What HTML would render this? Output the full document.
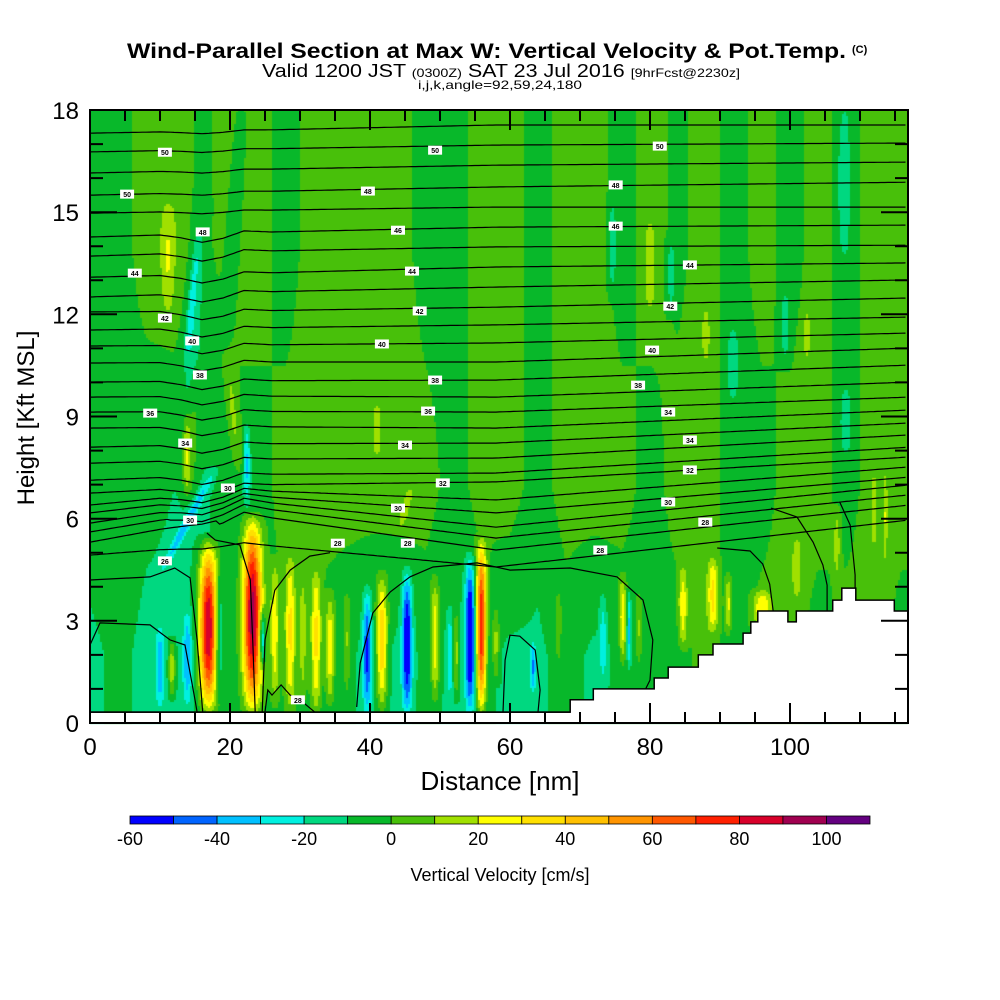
<!DOCTYPE html>
<html><head><meta charset="utf-8"><style>
html,body{margin:0;padding:0;background:#fff;width:1000px;height:1000px;overflow:hidden}
#wrap{position:relative;width:1000px;height:1000px}
canvas,svg{position:absolute;left:0;top:0}
text{font-family:"Liberation Sans",sans-serif}
</style></head><body>
<div id="wrap">
<canvas id="field" width="1000" height="1000"></canvas>
<svg id="ov" width="1000" height="1000">
<g>
<text x="127" y="58" font-size="21" font-weight="bold" textLength="719" lengthAdjust="spacingAndGlyphs">Wind-Parallel Section at Max W: Vertical Velocity &amp; Pot.Temp.</text>
<text x="852" y="53" font-size="11" font-weight="bold">(C)</text>
<text x="262" y="77" font-size="18" textLength="478" lengthAdjust="spacingAndGlyphs">Valid 1200 JST <tspan font-size="12">(0300Z)</tspan> SAT 23 Jul 2016 <tspan font-size="12">[9hrFcst@2230z]</tspan></text>
<text x="418" y="89" font-size="12" textLength="164" lengthAdjust="spacingAndGlyphs">i,j,k,angle=92,59,24,180</text>
</g>
<g id="contours"></g>
<g id="terrain"></g>
<g id="clabels"></g>
<g id="axes"></g>
<g id="cbar"></g>
<text x="500" y="790" font-size="26" text-anchor="middle">Distance [nm]</text>
<text x="0" y="0" font-size="24" text-anchor="middle" transform="translate(34,418) rotate(-90)">Height [Kft MSL]</text>
<text x="500" y="881" font-size="18" text-anchor="middle">Vertical Velocity [cm/s]</text>
</svg>
</div>
<script>
// ---------- data ----------
const xTicks = [0,20,40,60,80,100];
const yTicks = [0,3,6,9,12,15,18];
const cbLevels = [-60,-40,-20,0,20,40,60,80,100];
const binColors = ['#0000ff','#0064ff','#00c0ff','#00f0e0','#00d880','#08b82a','#48c00a','#a0e000','#ffff00','#ffe000','#ffc000','#ff9400','#ff5800','#ff2000','#d8002a','#a00050','#640080'];
const binMin = -60, binStep = 10;
// background w (cm/s) at x = 0,4,...,116 nm, for low (2 kft), mid (7 kft), top (14 kft)
const bgLow = [-12,-8,-12,-12,-12,-5,-5,-2,-3,-8,-12,-12,-8,-12,-8,-12,-12,-6,-12,-8,-5,-5,5,-5,5,5,-5,5,5,-5];
const bgMid = [-5,-5,-8,-10,-12,-5,-5,5,5,5,5,5,5,-5,5,5,-5,5,5,5,-5,5,5,-5,-5,5,5,-5,5,5];
const bgTop = [-5,-5,5,8,-3,5,5,-5,5,5,5,5,-5,-5,5,5,-5,5,5,-5,5,-3,5,-5,5,-5,5,-5,5,5];
// updraft/downdraft cells
const cellX   = [10.0,11.7,13.9,16.9,18.4,23.2,24.6,26.4,28.6,30.4,32.3,34.3,36.7,39.6,41.7,45.3,49.3,51.4,52.3,54.3,55.9,58.0,63.3,66.9,73.3,76.1,77.0,78.4,84.7,89.0,91.2,96.0,101.0,106.7,112.0,113.6,13.9,14.6,14.5,11.1,20.7,22.4,13.8,14.5,20.5,41.0,45.0,74.6,80.0,83.0,88.0,91.8,99.3,102.4,107.7,108.0];
const cellW   = [0.6,0.5,0.6,1.3,0.6,1.3,0.4,0.6,0.7,0.5,0.7,0.6,0.5,0.6,0.8,0.7,0.6,0.4,0.4,0.7,0.7,0.5,0.4,0.4,0.5,0.5,0.3,0.4,0.6,0.7,0.4,1.2,0.6,0.5,0.3,0.3,0.7,1.0,0.45,0.9,1.0,0.5,0.6,1.2,0.8,0.5,0.6,0.6,0.8,0.6,0.5,0.8,0.7,0.5,0.9,0.8];
const cellBot = [0.3,0.6,0.3,0.0,0.5,0.0,1.5,0.3,0.0,0.5,0.0,0.3,0.5,0.0,0.0,0.0,0.3,0.5,0.5,0.0,0.0,1.0,0.8,1.5,1.0,1.5,1.5,1.5,2.0,2.5,2.5,2.8,3.5,4.0,5.0,4.5,4.2,7.0,10.2,11.6,11.0,6.2,6.5,6.0,7.0,7.7,5.5,12.3,11.7,11.8,10.5,9.3,10.3,10.5,13.2,7.7];
const cellTop = [3.0,2.6,3.5,5.6,4.8,6.3,3.5,5.0,5.2,4.5,4.8,4.0,4.0,4.2,4.6,4.8,4.5,3.5,3.5,5.2,5.6,3.5,2.5,4.0,4.0,4.5,4.0,4.0,4.8,5.0,4.5,4.0,5.6,6.5,7.5,7.5,7.6,16.0,14.5,15.4,19.0,9.0,9.3,11.0,11.0,9.5,7.0,15.7,15.0,14.5,12.3,11.8,13.0,12.3,18.5,10.0];
const cellAmp = [-28,28,-28,100,-25,100,-45,30,34,20,36,32,18,-42,48,-55,34,-18,25,-60,85,22,-30,15,-18,32,-28,16,28,32,25,28,16,16,16,16,-28,-15,-12,15,-15,-28,25,14,14,14,15,-15,15,-15,14,-15,-15,14,-15,-15];
const cellTilt= [0,0,0,0,0,0,0,0,0,0,0,0,0,0,0,0,0,0,0,0,0,0,0,0,0,0,0,0,0,0,0,0,0,0,0,0,2.5,0.3,0.5,0,0.3,0,0,0,-0.5,0,1.2,0,0,0,0,0,0,0,0,0];
// potential temperature contour heights (kft) at anchor distances
const thetaAnchorX = [0,22,58,117];
const thetaZ0   = [17.32,16.77,16.15,15.50,14.97,14.27,13.71,13.09,12.51,12.07,11.54,11.07,10.57,10.01,9.57,9.13,8.66,8.10,7.63,7.13,6.75,6.40,6.17,5.87,5.61,5.31,4.93];
const thetaZ22  = [17.40,16.85,16.25,15.60,15.05,14.40,13.85,13.20,12.65,12.10,11.60,11.10,10.60,10.05,9.60,9.15,8.70,8.20,7.75,7.30,6.99,6.84,6.69,6.55,6.37,6.14,5.28];
const thetaZ58  = [17.56,16.97,16.38,15.74,15.15,14.56,13.98,13.39,12.80,12.21,11.69,11.16,10.60,10.07,9.57,9.13,8.66,8.22,7.78,7.34,7.08,6.55,6.17,5.75,5.43,5.08,4.58];
const thetaZ117 = [17.56,17.03,16.47,15.88,15.15,14.62,14.03,13.51,13.01,12.48,11.92,11.45,11.01,10.51,10.01,9.57,9.19,8.81,8.46,8.10,7.81,7.52,7.22,6.99,6.70,6.40,5.96];
const dipX = [0,10,13,16,19,22,26,117];
const dipK = [0,0,-0.1,-0.25,-0.15,0.05,0,0];
// low-level closed/terrain-bounded theta contours: [nm, kft] pairs
const lowContours = [
 [[0,2.29],[1.43,2.94],[8.57,2.88],[11.43,2.44],[13.57,2.29],[15,0.68],[15.3,0.32]],
 [[0,4.2],[8.57,4.29],[12.1,4.55],[14.3,4.26],[15.3,2.44],[16.1,0.32]],
 [[16.7,5.58],[17.9,5.37],[21.4,5.23],[22.9,4.2],[23.3,2.14],[23.6,0.32]],
 [[24.6,0.32],[25,2.44],[26.4,3.9],[28.6,4.49],[31.4,4.9],[34.3,5.0]],
 [[25.0,0.32],[25.4,0.97],[26,0.82],[27.3,1.12],[28.6,0.82],[30,0.68],[32.1,0.32]],
 [[38.1,0.47],[38.6,1.76],[40.4,3.23],[42.9,3.85],[45.7,4.29],[49,4.58],[55.3,4.7],[60,4.49],[68.6,4.55],[75.3,4.29],[79,3.61],[80.4,2.44],[80,1.26],[79.3,0.97]],
 [[59,0.32],[59.3,1.85],[60,2.58],[61.4,2.55],[63.6,2.14],[64.3,0.97],[64,0.32]],
 [[97.3,6.31],[101,6.05],[103.3,5.31],[104.7,4.64],[105.3,4.05],[105.3,3.17]],
 [[107.1,6.49],[108.6,5.81],[109.3,4.35],[109.3,3.96]],
 [[89.6,5.14],[94.3,5.05],[96.1,4.67],[97.1,4.08],[97.6,3.29]]
];
const labelX = [10.7,5.3,49.3,81.4,39.7,75.1,16.1,44,75.1,6.4,46,85.7,10.7,47.1,82.9,14.6,41.7,80.3,15.7,49.3,78.3,8.6,48.3,82.6,13.6,45,85.7,50.4,85.7,19.7,44,82.6,14.3,87.9,35.4,45.4,72.9,10.7,29.7];
const labelZ = [16.76,15.53,16.82,16.94,15.62,15.8,14.42,14.47,14.59,13.21,13.27,13.45,11.89,12.1,12.24,11.22,11.13,10.95,10.22,10.07,9.92,9.1,9.16,9.13,8.22,8.16,8.31,7.05,7.43,6.9,6.31,6.49,5.96,5.9,5.28,5.28,5.08,4.76,0.68];
const labelTxt = ['50','50','50','50','48','48','48','46','46','44','44','44','42','42','42','40','40','40','38','38','38','36','36','34','34','34','34','32','32','30','30','30','30','28','28','28','28','26','28'];
// terrain (step function): start distance nm, surface height kft
const terrX = [0,68.6,71.9,80.6,82.6,86.9,89,93.3,94.4,95.4,99.7,100.9,106.1,107.4,109.4,114.9];
const terrH = [0.32,0.68,1.0,1.32,1.64,2.0,2.32,2.64,2.97,3.29,2.97,3.29,3.61,3.96,3.61,3.29];

// ---------- scales ----------
const PX0=90, PX1=908, PY0=110, PY1=723, XMAX=116.86, ZMAX=18;
const sx = v => PX0 + v*(PX1-PX0)/XMAX;
const sy = v => PY1 - v*(PY1-PY0)/ZMAX;
const ix = p => (p-PX0)*XMAX/(PX1-PX0);
const iz = p => (PY1-p)*ZMAX/(PY1-PY0);
const NS='http://www.w3.org/2000/svg';
function lerpArr(xs, ys, x){
  if(x<=xs[0]) return ys[0];
  for(let i=1;i<xs.length;i++){ if(x<=xs[i]){const t=(x-xs[i-1])/(xs[i]-xs[i-1]); return ys[i-1]+t*(ys[i]-ys[i-1]);} }
  return ys[ys.length-1];
}
function bgAt(x,z){
  const i=Math.min(28,Math.max(0,Math.floor(x/4))); const t=Math.min(1,Math.max(0,(x-i*4)/4));
  const v=a=>a[i]+t*(a[i+1]-a[i]);
  const l=v(bgLow), m=v(bgMid), h=v(bgTop);
  if(z<=2) return l; if(z<=7) return l+(m-l)*(z-2)/5; if(z<=14) return m+(h-m)*(z-7)/7; return h;
}
function wAt(x,z){
  let w=bgAt(x,z);
  for(let k=0;k<cellX.length;k++){
    const zm=(cellBot[k]+cellTop[k])/2, hz=(cellTop[k]-cellBot[k])/2;
    const dz=(z-zm)/hz; if(dz<=-1||dz>=1) continue;
    const xc=cellX[k]+cellTilt[k]*(z-zm);
    const dx=(x-xc)/cellW[k]; if(dx>4||dx<-4) continue;
    w+=cellAmp[k]*Math.exp(-dx*dx)*(1-dz*dz);
  }
  return w;
}
// ---------- field ----------
const ctx=document.getElementById('field').getContext('2d');
ctx.fillStyle='#fff'; ctx.fillRect(0,0,1000,1000);
const B=2;
for(let py=PY0;py<PY1;py+=B){
  const z=iz(py+B/2);
  for(let px=PX0;px<PX1;px+=B){
    const x=ix(px+B/2);
    let bi=Math.floor((wAt(x,z)-binMin)/binStep); bi=Math.max(0,Math.min(binColors.length-1,bi));
    ctx.fillStyle=binColors[bi]; ctx.fillRect(px,py,B,B);
  }
}
// ---------- contours ----------
const cg=document.getElementById('contours');
function addPath(parent,d,name,stroke,w,fill){
  const p=document.createElementNS(NS,'path'); p.setAttribute('d',d);
  p.setAttribute('stroke',stroke); p.setAttribute('stroke-width',w); p.setAttribute('fill',fill||'none');
  
  
  parent.appendChild(p); return p;
}
for(let i=0;i<thetaZ0.length;i++){
  const zs=[thetaZ0[i],thetaZ22[i],thetaZ58[i],thetaZ117[i]];
  let d='';
  for(let x=0;x<=XMAX+0.01;x+=0.5){
    let z=lerpArr(thetaAnchorX,zs,x);
    const wgt=(z>6&&z<15)?1:0.3;
    z+=lerpArr(dipX,dipK,x)*wgt;
    d+=(x===0?'M':'L')+sx(x).toFixed(1)+','+sy(z).toFixed(1);
  }
  addPath(cg,d,'theta-contour-'+i,'#000',1.2);
}
lowContours.forEach((c,j)=>{
  let d=''; c.forEach((p,k)=>{d+=(k?'L':'M')+sx(p[0]).toFixed(1)+','+sy(p[1]).toFixed(1);});
  addPath(cg,d,'low-theta-contour-'+j,'#000',1.2);
});
// ---------- terrain ----------
const tg=document.getElementById('terrain');
let td='M'+sx(0)+','+sy(0);
for(let i=0;i<terrX.length;i++){
  td+='L'+sx(terrX[i]).toFixed(1)+','+(i? sy(terrH[i-1]).toFixed(1):sy(terrH[0]).toFixed(1));
  td+='L'+sx(terrX[i]).toFixed(1)+','+sy(terrH[i]).toFixed(1);
}
td+='L'+sx(XMAX)+','+sy(terrH[terrH.length-1]).toFixed(1)+'L'+sx(XMAX)+','+sy(0)+'Z';
addPath(tg,td,'terrain-mask','#000',1.5,'#fff');
// ---------- contour labels ----------
const lg=document.getElementById('clabels');
for(let i=0;i<labelTxt.length;i++){
  const cx=sx(labelX[i]), cy=sy(labelZ[i]);
  const r=document.createElementNS(NS,'rect');
  r.setAttribute('x',cx-7); r.setAttribute('y',cy-4.5); r.setAttribute('width',14); r.setAttribute('height',9); r.setAttribute('fill','#fff');
  
  
  lg.appendChild(r);
  const t=document.createElementNS(NS,'text');
  t.setAttribute('x',cx); t.setAttribute('y',cy+3); t.setAttribute('font-size','7'); t.setAttribute('font-weight','bold'); t.setAttribute('text-anchor','middle');
  t.textContent=labelTxt[i];
  
  
  lg.appendChild(t);
}
// ---------- axes ----------
const ag=document.getElementById('axes');
let tk='';
for(let v=0;v<=115;v+=5){
  const L=(v%20===0)?20:11, X=sx(v).toFixed(1);
  tk+=`M${X},${PY1}V${PY1-L}M${X},${PY0}V${PY0+L}`;
}
for(let v=0;v<=18;v+=1){
  const L=(v%3===0)?27:13, Y=sy(v).toFixed(1);
  tk+=`M${PX0},${Y}H${PX0+L}M${PX1},${Y}H${PX1-L}`;
}
addPath(ag,tk,'axis-ticks','#000',2);
addPath(ag,`M${PX0},${sy(terrH[0])}H${sx(terrX[1])}`,'ground-line','#000',1.5);
const fr=document.createElementNS(NS,'rect');
fr.setAttribute('x',PX0); fr.setAttribute('y',PY0); fr.setAttribute('width',PX1-PX0); fr.setAttribute('height',PY1-PY0);
fr.setAttribute('fill','none'); fr.setAttribute('stroke','#000'); fr.setAttribute('stroke-width','2');


ag.appendChild(fr);
xTicks.forEach(v=>{
  const t=document.createElementNS(NS,'text');
  t.setAttribute('x',sx(v)); t.setAttribute('y',755); t.setAttribute('font-size','24'); t.setAttribute('text-anchor','middle');
  t.textContent=v;
  
  
  ag.appendChild(t);
});
yTicks.forEach(v=>{
  const t=document.createElementNS(NS,'text');
  t.setAttribute('x',79); t.setAttribute('y',sy(v)+9); t.setAttribute('font-size','24'); t.setAttribute('text-anchor','end');
  t.textContent=v;
  
  
  ag.appendChild(t);
});
// ---------- colorbar ----------
const cb=document.getElementById('cbar');
const CB0=130, CB1=870, cbX=v=>CB0+(v-binMin)*(CB1-CB0)/(binColors.length*binStep);
binColors.forEach((c,i)=>{
  const r=document.createElementNS(NS,'rect');
  const v=binMin+i*binStep;
  r.setAttribute('x',cbX(v)); r.setAttribute('y',816); r.setAttribute('width',cbX(v+binStep)-cbX(v)); r.setAttribute('height',8);
  r.setAttribute('fill',c); r.setAttribute('stroke','#000'); r.setAttribute('stroke-width','0.8');
  
  
  cb.appendChild(r);
});
cbLevels.forEach(v=>{
  const t=document.createElementNS(NS,'text');
  t.setAttribute('x',cbX(v)); t.setAttribute('y',845); t.setAttribute('font-size','18'); t.setAttribute('text-anchor','middle');
  t.textContent=v;
  
  
  cb.appendChild(t);
});
</script>
</body></html>
